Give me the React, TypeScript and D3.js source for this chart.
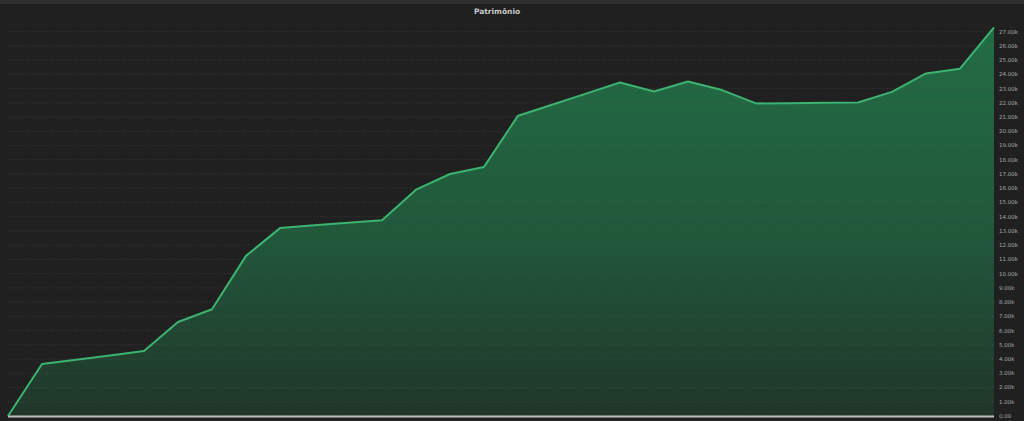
import React from "react";
import * as d3 from "d3";

// Patrimônio values (thousands), one per period
const periods = d3.range(30);
const values = [
  0, 3.65, 3.95, 4.25, 4.56, 6.6, 7.5, 11.25, 13.2, 13.4,
  13.58, 13.76, 15.9, 17.0, 17.5, 21.1, 21.87, 22.65, 23.43, 22.8,
  23.5, 22.9, 21.96, 21.98, 22.0, 22.03, 22.77, 24.07, 24.4, 27.3,
];
const yTicks = d3.range(0, 28);
const title = "Patrimônio";

const W = 1024;
const H = 421;
const margin = { top: 31.7, right: 30, bottom: 5, left: 8 };

export default function App() {
  const x = d3.scaleLinear()
    .domain([0, periods.length - 1])
    .range([margin.left, W - margin.right]);
  const y = d3.scaleLinear()
    .domain([0, 27])
    .range([H - margin.bottom, margin.top]);

  const area = d3.area<number>()
    .x((_, i) => x(periods[i]))
    .y0(y(0))
    .y1((d) => y(d));
  const line = d3.line<number>()
    .x((_, i) => x(periods[i]))
    .y((d) => y(d));

  const fmt = (v: number) => (v === 0 ? "0.00" : `${v.toFixed(2)}k`);

  return (
    <svg
      width={W}
      height={H}
      style={{ position: "fixed", top: 0, left: 0, display: "block", background: "#202020" }}
    >
      <defs>
        <linearGradient id="fillGrad" x1="0" y1="0" x2="0" y2="1">
          <stop offset="0%" stopColor="#226d45" />
          <stop offset="55%" stopColor="#20573a" />
          <stop offset="100%" stopColor="#203629" />
        </linearGradient>
      </defs>
      <rect x={0} y={0} width={W} height={H} fill="#202020" />
      <rect x={0} y={0} width={W} height={4} fill="#2f2f2f" />
      <text
        x={497}
        y={14}
        textAnchor="middle"
        fontFamily="'DejaVu Sans', sans-serif"
        fontWeight="bold"
        fontSize={7.5}
        fill="#c8c8c8"
      >
        {title}
      </text>

      {/* area + line */}
      <path d={area(values) || ""} fill="url(#fillGrad)" />

      {/* grid */}
      {yTicks.map((t) => (
        <line
          key={t}
          x1={margin.left}
          x2={x(periods[periods.length - 1])}
          y1={y(t)}
          y2={y(t)}
          stroke="#5a5a5a"
          strokeOpacity={0.45}
          strokeWidth={1}
          strokeDasharray="1,2"
        />
      ))}

      <path d={line(values) || ""} fill="none" stroke="#3cb371" strokeWidth={2} strokeLinejoin="round" />

      {/* baseline */}
      <line
        x1={margin.left}
        x2={x(periods[periods.length - 1])}
        y1={y(0) + 0.5}
        y2={y(0) + 0.5}
        stroke="#bdbdbd"
        strokeWidth={2}
      />

      {/* y labels */}
      {yTicks.map((t) => (
        <text
          key={t}
          x={999}
          y={y(t)}
          dy="0.35em"
          fontFamily="'DejaVu Sans', sans-serif"
          fontSize={5.5}
          fill="#a8a8a8"
        >
          {fmt(t)}
        </text>
      ))}
    </svg>
  );
}
